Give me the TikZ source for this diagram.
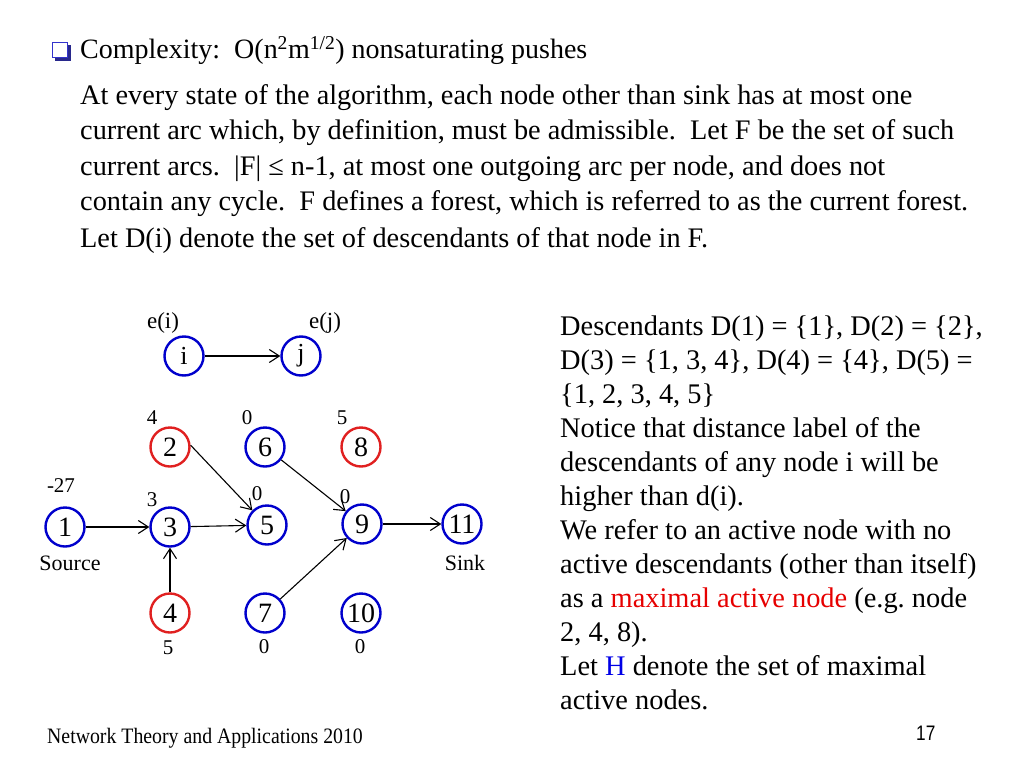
\documentclass[tikz,border=0pt]{standalone}
\usepackage{fontspec}
\setmainfont{Liberation Serif}
\newfontfamily\arialfont{Liberation Sans}
\usetikzlibrary{arrows.meta}
\definecolor{nodeblue}{RGB}{0,0,204}
\definecolor{nodered}{RGB}{224,32,32}
\definecolor{bulletblue}{RGB}{51,51,204}
\definecolor{bulletshadow}{RGB}{40,40,140}
\definecolor{textred}{RGB}{230,0,0}
\definecolor{textblue}{RGB}{0,0,230}
\frenchspacing
\begin{document}
\begin{tikzpicture}[x=1pt,y=-1pt,
  vert/.style={circle,draw=nodeblue,line width=2.4pt,minimum size=39pt,inner sep=0pt,font=\fontsize{28}{28}\selectfont},
  vertred/.style={vert,draw=nodered},
  vsmall/.style={vert,font=\fontsize{26}{26}\selectfont},
  lab/.style={inner sep=0pt,font=\fontsize{21}{21}\selectfont},
  biglab/.style={inner sep=0pt,font=\fontsize{22}{22}\selectfont},
  elab/.style={inner sep=0pt,font=\fontsize{23}{23}\selectfont},
  arc/.style={-{Straight Barb[length=10pt,width=13pt]},line width=1.1pt},
  body/.style={anchor=base west,inner sep=0pt,font=\fontsize{28.3}{28.3}\selectfont},
  rtext/.style={anchor=base west,inner sep=0pt,font=\fontsize{28.4}{28.4}\selectfont}]
\useasboundingbox (0,0) rectangle (1024,768);
% bullet
\fill[bulletshadow] (55,45) rectangle (71,61);
\draw[bulletblue,fill=white,line width=1.6pt] (52.5,42.5) rectangle (67.5,57.5);
\node[anchor=base west,inner sep=0pt,font=\fontsize{28}{28}\selectfont] (title) at (80,59)
  {Complexity:~ O(n\textsuperscript{2}m\textsuperscript{1/2}) nonsaturating pushes};
\node[body] (b1) at (80,104) {At every state of the algorithm, each node other than sink has at most one};
\node[body] (b2) at (80,139.5) {current arc which, by definition, must be admissible.~ Let F be the set of such};
\node[body] (b3) at (80,175) {current arcs.~ |F| ≤ n-1, at most one outgoing arc per node, and does not};
\node[body] (b4) at (80,210) {contain any cycle.~ F defines a forest, which is referred to as the current forest.};
\node[body] (b5) at (80,247) {Let D(i) denote the set of descendants of that node in F.};
% right text
\node[rtext] (r1) at (560,335) {Descendants D(1) = \{1\}, D(2) = \{2\},};
\node[rtext] (r2) at (560,369) {D(3) = \{1, 3, 4\}, D(4) = \{4\}, D(5) =};
\node[rtext] (r3) at (560,403) {\{1, 2, 3, 4, 5\}};
\node[rtext] (r4) at (560,437) {Notice that distance label of the};
\node[rtext] (r5) at (560,471) {descendants of any node i will be};
\node[rtext] (r6) at (560,505) {higher than d(i).};
\node[rtext] (r7) at (560,539) {We refer to an active node with no};
\node[rtext] (r8) at (560,573) {active descendants (other than itself)};
\node[rtext] (r9) at (560,607) {as a \textcolor{textred}{maximal active node} (e.g. node};
\node[rtext] (r10) at (560,641) {2, 4, 8).};
\node[rtext] (r11) at (560,675) {Let \textcolor{textblue}{H} denote the set of maximal};
\node[rtext] (r12) at (560,709) {active nodes.};
% footer
\node[anchor=base west,inner sep=0pt,font=\fontsize{22}{22}\selectfont] (foot) at (47,743)
  {\scalebox{0.9}[1]{Network Theory and Applications 2010}};
\node[anchor=base west,inner sep=0pt,font=\arialfont\fontsize{21}{21}\selectfont] (pg) at (916,740)
  {\scalebox{0.82}[1]{17}};
% legend nodes
\node[vsmall] (i) at (184,356) {i};
\node[vsmall] (j) at (301,356) {j};
\node[elab] (ei) at (163,323) {e(i)};
\node[elab] (ej) at (325,323) {e(j)};
\draw[arc] (i) -- (j);
% graph nodes
\node[vertred] (n2) at (170,447) {2};
\node[vert] (n6) at (265,447) {6};
\node[vertred] (n8) at (361,447) {8};
\node[vert] (n1) at (65,527) {1};
\node[vert] (n3) at (170,527) {3};
\node[vert] (n5) at (267,525) {5};
\node[vert] (n9) at (362,524) {9};
\node[vert] (n11) at (462,524) {11};
\node[vertred] (n4) at (170,613) {4};
\node[vert] (n7) at (265,613) {7};
\node[vert] (n10) at (361,613) {10};
% labels
\node[lab] (l2) at (152,418) {4};
\node[lab] (l6) at (247,418) {0};
\node[lab] (l8) at (342,418) {5};
\node[lab] (l1) at (61,486) {-27};
\node[lab] (l3) at (152,500) {3};
\node[lab] (l5) at (257,494) {0};
\node[lab] (l9) at (345,497) {0};
\node[biglab] (src) at (70,563) {Source};
\node[biglab] (snk) at (465,563) {Sink};
\node[lab] (l4) at (168,648) {5};
\node[lab] (l7) at (264,647) {0};
\node[lab] (l10) at (360,647) {0};
% arcs
\draw[arc] (n1) -- (n3);
\draw[arc] (n3) -- (n5);
\draw[arc] (n2.5) -- (n5.135);
\draw[arc] (n6) -- (n9);
\draw[arc] (n7) -- (n9);
\draw[arc] (n4) -- (n3);
\draw[arc] (n9) -- (n11);
\end{tikzpicture}
\end{document}
